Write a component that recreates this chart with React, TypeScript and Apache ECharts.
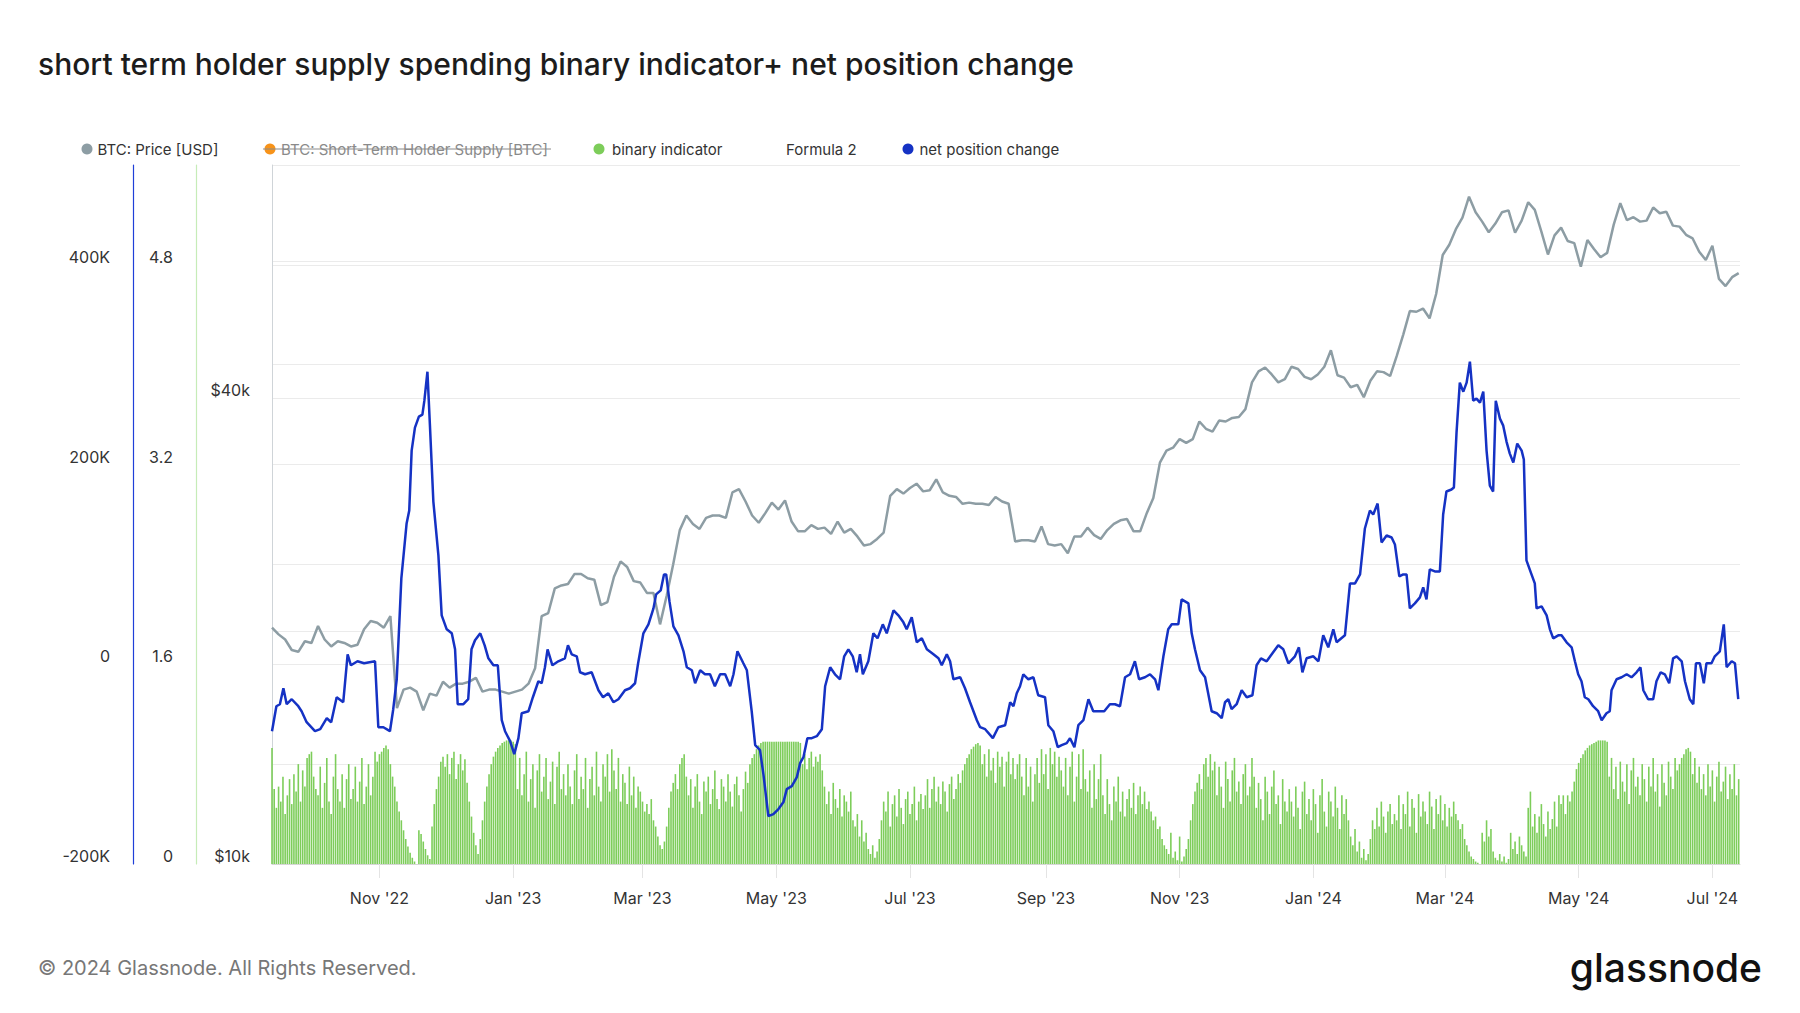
import React, { useEffect, useRef } from "react";
import * as echarts from "echarts";

// ---------- time frame ----------
const START = Date.UTC(2022, 8, 13); // day 0 = 13 Sep 2022
const DAY = 86400000;
const LAST_DAY = 669.6;

// x-axis ticks (month starts) and labels
const xTickDates: [number, number][] = [
  [2022, 10], [2023, 0], [2023, 2], [2023, 4], [2023, 6], [2023, 8],
  [2023, 10], [2024, 0], [2024, 2], [2024, 4], [2024, 6],
];
const xTickLabels = [
  "Nov '22", "Jan '23", "Mar '23", "May '23", "Jul '23", "Sep '23",
  "Nov '23", "Jan '24", "Mar '24", "May '24", "Jul '24",
];

// y-axis ticks
const netTicks = [-200000, 0, 200000, 400000];
const netTickLabels = ["-200K", "0", "200K", "400K"];
const binaryTicks = [0, 1.6, 3.2, 4.8];
const binaryTickLabels = ["0", "1.6", "3.2", "4.8"];
const priceGridValues = [10000, 20000, 40000, 60000];
const priceLabelValues = [10000, 40000];
const priceTickLabels = ["$10k", "$40k"];

// BTC price in $k, one value every 3 days starting at day 0
const PRICE_STEP = 3;
const priceK = [
  20.2, 19.8, 19.5, 18.9, 18.8, 19.4, 19.3, 20.3, 19.5, 19.1,
  19.4, 19.3, 19.1, 19.2, 20.1, 20.6, 20.5, 20.2, 20.9, 15.9,
  16.8, 16.9, 16.7, 15.8, 16.6, 16.5, 17.2, 16.9, 17.1, 17.1,
  17.2, 17.4, 16.7, 16.8, 16.8, 16.7, 16.6, 16.7, 16.8, 17.1,
  17.9, 20.9, 21.1, 22.7, 22.9, 23.0, 23.7, 23.7, 23.4, 23.3,
  21.6, 21.8, 23.5, 24.6, 24.2, 23.2, 23.1, 22.4, 22.4, 20.4,
  22.2, 24.4, 27.0, 28.2, 27.5, 27.1, 28.0, 28.2, 28.2, 28.0,
  30.2, 30.5, 29.4, 28.2, 27.6, 28.4, 29.3, 28.7, 29.5, 27.7,
  26.9, 26.9, 27.4, 27.1, 27.2, 26.7, 27.7, 26.8, 27.1, 26.5,
  25.8, 25.9, 26.3, 26.8, 29.9, 30.5, 30.1, 30.6, 31.0, 30.3,
  30.4, 31.4, 30.2, 29.9, 29.8, 29.2, 29.3, 29.2, 29.2, 29.1,
  29.8, 29.4, 29.2, 26.1, 26.2, 26.2, 26.1, 27.3, 25.9, 25.8,
  25.9, 25.2, 26.5, 26.5, 27.2, 26.6, 26.3, 27.0, 27.5, 27.8,
  27.9, 26.9, 26.9, 28.4, 29.7, 33.0, 34.2, 34.5, 35.4, 35.0,
  35.4, 37.3, 36.5, 36.2, 37.4, 37.3, 37.7, 37.8, 38.7, 41.9,
  43.3, 43.8, 42.9, 41.9, 42.3, 43.9, 43.6, 42.6, 42.3, 42.9,
  43.9, 46.1, 42.8, 42.5, 41.3, 41.6, 40.1, 42.1, 43.3, 43.2,
  42.7, 45.3, 48.3, 51.8, 51.7, 52.2, 50.7, 54.5, 61.2, 63.1,
  66.1, 68.4, 72.8, 69.5, 67.6, 65.5, 67.2, 69.5, 69.9, 65.4,
  67.8, 71.6, 70.0, 65.6, 61.3, 64.9, 66.4, 63.8, 63.4, 59.1,
  64.0, 62.3, 60.8, 61.6, 67.0, 71.4, 67.9, 68.5, 67.6, 67.8,
  70.5, 69.3, 69.6, 66.8, 66.6, 65.0, 64.3, 61.8, 60.3, 62.9,
  57.0, 55.8, 57.3, 58.0,
];

// net position change: [day, value in K]
const netPosition: [number, number][] = [
  [0, -67], [2, -42], [3.6, -40], [5.2, -24], [6.7, -40], [9, -35], [12, -42], [13.5, -47], [15.8, -58], [19.6, -67],
  [22, -65], [25, -54], [27, -58], [29.5, -33], [32.5, -38], [34.5, 10], [36, -1], [39, 3], [42, 1], [47, 3],
  [48.5, -63], [50.8, -63], [53.8, -67], [55.3, -45], [56.9, -15], [59, 86], [61.4, 141], [62.6, 154], [63.7, 214], [65.2, 237],
  [67, 248], [68.6, 250], [69.5, 264], [70.9, 293], [72, 241], [73.6, 163], [75.9, 109], [77.4, 49], [79.7, 35], [82, 31],
  [83.5, 15], [84.7, -40], [87.3, -40], [89.5, -35], [91, 15], [92.6, 24], [95, 31], [97, 19], [98.7, 6], [101, -1],
  [103, -1], [104.8, -56], [106.3, -67], [108.6, -77], [110.5, -90], [112.4, -74], [113.9, -49], [117, -47], [119, -33], [121.5, -17],
  [123, -19], [124.5, -3], [125.7, 15], [127.9, -1], [130.6, 3], [133.6, 6], [135, 19], [136.7, 10], [139, 8], [140.5, -8],
  [142.8, -10], [145.8, -8], [148.9, -26], [151, -33], [153.4, -29], [155.7, -38], [158, -35], [161, -26], [163.3, -24], [165.6, -19],
  [167, 1], [169.4, 31], [171.7, 40], [174, 56], [175.2, 70], [177.3, 74], [178.8, 90], [179.8, 90], [181.3, 63], [183.1, 38],
  [185.4, 29], [187.7, 13], [189.2, -3], [191.5, -6], [193, -19], [195.3, -6], [197.5, -10], [199.8, -10], [202, -22], [204.4, -10],
  [206.7, -10], [209, -22], [210.5, -10], [212.3, 13], [215, 1], [216.6, -6], [218.8, -47], [220.4, -81], [222.6, -86], [224.2, -111],
  [226.4, -152], [228.7, -150], [231, -145], [233.3, -138], [234.8, -125], [237.1, -122], [239.4, -113], [240.9, -99], [242.4, -93], [244.2, -74],
  [246.2, -74], [248.5, -72], [250.8, -65], [252.3, -22], [254.6, -3], [256.8, -10], [259.1, -15], [261, 8], [262.9, 15], [264.9, 8],
  [266.7, -8], [268.2, 10], [269.5, -10], [272, 3], [274.3, 31], [276.2, 26], [278.6, 40], [280.4, 31], [283.5, 54], [285.7, 49],
  [288, 42], [289.5, 35], [291.8, 47], [294.1, 22], [296.4, 26], [298.7, 15], [301.7, 10], [304, 6], [305.5, -1], [307.8, 10],
  [309.3, 3], [310.8, -15], [313.9, -13], [316.1, -24], [318.4, -38], [321.5, -56], [323, -63], [325.3, -65], [328.8, -74], [331.3, -63],
  [334.4, -61], [336.7, -38], [338.2, -42], [339.7, -29], [341.2, -22], [342.7, -10], [345, -15], [347.3, -13], [349.5, -31], [352.6, -33],
  [354.1, -61], [356.4, -67], [358.4, -83], [360.2, -81], [362.5, -79], [364, -74], [366, -83], [367.8, -61], [370.1, -56], [372.4, -35],
  [374.6, -47], [376.9, -47], [379.6, -47], [382.2, -40], [384.5, -40], [386.8, -42], [389.1, -13], [391.4, -10], [393.6, 3], [395.5, -15],
  [398.2, -13], [400.5, -10], [402.8, -15], [404.3, -26], [406.6, 8], [408.8, 35], [410.4, 40], [413.4, 40], [414.9, 65], [418, 61],
  [419.5, 31], [421, 15], [423.3, -6], [425.6, -13], [428.6, -47], [430.9, -49], [433.2, -54], [434.7, -38], [436.2, -35], [437.7, -45],
  [440, -40], [442.3, -26], [444.6, -33], [447.2, -31], [449.1, -1], [451.1, 6], [453.7, 3], [456, 10], [459, 19], [461.3, 15],
  [463.6, 1], [466.6, 8], [468.4, 17], [470, -8], [471.9, 6], [475, 8], [477.3, 3], [479.5, 29], [481.8, 17], [484.1, 35],
  [485.6, 22], [489.4, 29], [491.7, 81], [494, 81], [496.3, 90], [498.5, 136], [500.8, 154], [502.3, 150], [504.3, 161], [506.1, 122],
  [508.4, 129], [510.7, 127], [512.2, 120], [514.2, 88], [516, 90], [517.5, 90], [519, 56], [521.3, 61], [523.6, 67], [525.1, 77],
  [526.6, 65], [528.1, 95], [530.4, 93], [532.7, 93], [534.2, 150], [535.7, 173], [538, 175], [539.1, 177], [540.3, 232], [541.8, 282],
  [543.4, 273], [544.9, 282], [546.4, 303], [547.9, 264], [549.4, 266], [551, 262], [552.5, 273], [554, 214], [555.5, 179], [557, 173],
  [558.2, 264], [560.1, 246], [561.6, 239], [563.1, 223], [564.6, 211], [566.2, 202], [568, 221], [570, 214], [571, 205], [572.2, 104],
  [574.5, 90], [576, 81], [576.8, 56], [579.1, 58], [581.4, 49], [582.9, 35], [584.4, 26], [586.7, 29], [588.2, 29], [590.5, 22],
  [592.8, 17], [594.3, 3], [595.8, -10], [597.3, -17], [598.8, -33], [600.4, -35], [602.6, -42], [604.9, -47], [606.5, -56], [608.7, -49],
  [610.2, -47], [611, -26], [613.3, -15], [615.6, -13], [617.9, -10], [620.1, -13], [622.4, -8], [624.2, -3], [625.5, -26], [627.7, -35],
  [630, -35], [631.5, -17], [633.4, -8], [635.3, -10], [637.3, -19], [639.1, 6], [640.7, 8], [643, 3], [644.5, -17], [646.7, -35],
  [648.3, -40], [649.5, 1], [651.3, 1], [653.1, -19], [654.3, 1], [656.6, 1], [658.1, 8], [660.4, 13], [662.2, 40], [663.5, -3],
  [665.8, 3], [667.3, 1], [668.8, -35],
];

// binary indicator, daily from day 0, in percent (0..100 -> 0..1)
const binaryPct = [
  // d0-20
  93, 60, 45, 62, 50, 70, 40, 55, 68, 48, 72, 58, 80, 50, 75, 62, 85, 88, 90, 70, 60,
  // d21-47
  55, 78, 45, 65, 85, 50, 40, 70, 88, 60, 50, 72, 45, 68, 80, 52, 60, 78, 50, 66, 85, 48, 62, 80, 55, 70, 90,
  // d48-54
  82, 88, 90, 93, 95, 92, 80,
  // d55-65
  70, 62, 50, 42, 35, 27, 20, 14, 9, 5, 2,
  // d66-72
  0, 27, 24, 18, 12, 7, 4,
  // d73-88
  30, 48, 60, 70, 82, 86, 78, 88, 72, 85, 90, 68, 80, 88, 75, 84,
  // d89-95
  65, 50, 38, 25, 15, 8, 20,
  // d96-111
  35, 50, 62, 72, 80, 86, 90, 93, 95, 97, 98, 99, 99, 99, 98, 96,
  // d112-133
  60, 85, 55, 72, 90, 50, 68, 80, 45, 75, 88, 58, 70, 85, 52, 66, 82, 48, 78, 90, 60, 72,
  // d134-170
  55, 80, 62, 48, 75, 88, 52, 70, 60, 85, 45, 68, 78, 55, 90, 62, 50, 80, 70, 88,
  58, 92, 75, 60, 85, 50, 72, 65, 48, 78, 55, 70, 45, 62, 58, 50, 42,
  // d171-179
  48, 40, 52, 35, 30, 22, 15, 12, 18,
  // d180-189
  30, 45, 58, 65, 72, 60, 80, 85, 88, 70,
  // d190-218
  55, 68, 45, 62, 72, 50, 40, 66, 58, 70, 48, 60, 75, 52, 44, 68, 62, 50, 72, 58,
  46, 64, 70, 55, 42, 60, 74, 65, 80,
  // d219-223
  85, 88, 92, 95, 97,
  // d224-241
  98, 98, 98, 98, 98, 98, 98, 98, 98, 98, 98, 98, 98, 98, 98, 98, 98, 97,
  // d242-251
  80, 88, 76, 85, 90, 78, 86, 82, 88, 75,
  // d252-265
  62, 48, 58, 40, 65, 52, 45, 60, 38, 55, 50, 42, 58, 35,
  // d266-277
  30, 40, 22, 35, 18, 25, 12, 8, 15, 5, 10, 20,
  // d278-297
  35, 50, 42, 58, 30, 48, 55, 38, 60, 45, 32, 52, 58, 40, 48, 62, 35, 50, 56, 44,
  // d298-314
  55, 68, 45, 60, 70, 50, 62, 48, 66, 58, 42, 64, 70, 52, 60, 72, 65,
  // d315-323
  75, 80, 85, 88, 92, 94, 96, 97, 95,
  // d324-341
  80, 88, 70, 92, 75, 85, 65, 90, 78, 86, 62, 82, 90, 72, 85, 68, 80, 88,
  // d342-348
  70, 55, 85, 62, 78, 50, 72,
  // d349-360
  85, 65, 92, 72, 88, 60, 93, 80, 90, 70, 86, 75,
  // d361-371
  62, 85, 55, 78, 90, 50, 70, 88, 60, 92, 68,
  // d372-378
  58, 75, 45, 80, 52, 68, 88,
  // d379-389
  55, 40, 68, 48, 35, 62, 50, 70, 42, 58, 38,
  // d390-400
  52, 60, 45, 65, 40, 55, 62, 48, 58, 44, 50,
  // d401-407
  42, 35, 38, 28, 30, 20, 15,
  // d408-417
  12, 8, 25, 5, 10, 3, 22, 2, 6, 12,
  // d418-430
  20, 35, 48, 58, 65, 72, 60, 80, 85, 70, 88, 75, 82,
  // d431-448
  55, 78, 62, 45, 82, 68, 50, 75, 85, 58, 66, 48, 72, 80, 55, 62, 85, 70,
  // d449-464
  45, 65, 52, 35, 70, 58, 40, 62, 75, 48, 55, 32, 68, 50, 42, 60,
  // d465-491
  50, 38, 62, 45, 28, 58, 66, 40, 52, 35, 60, 48, 25, 55, 68, 42, 30, 58, 50, 38,
  62, 45, 28, 55, 40, 52, 35,
  // d492-500
  22, 15, 28, 10, 18, 5, 12, 3, 8,
  // d501-512
  20, 35, 28, 45, 30, 50, 38, 25, 42, 48, 32, 40,
  // d513-539
  35, 55, 28, 48, 40, 58, 30, 52, 45, 25, 56, 38, 50, 42, 32, 58, 46, 28, 52, 40,
  55, 35, 48, 30, 45, 38, 50,
  // d540-551
  40, 35, 28, 32, 20, 15, 10, 6, 4, 2, 1, 0,
  // d552-557
  25, 18, 35, 22, 28, 10,
  // d558-564
  5, 3, 8, 2, 6, 1, 4,
  // d565-572
  25, 12, 18, 8, 22, 15, 10, 6,
  // d573-593
  45, 58, 30, 40, 25, 38, 48, 32, 22, 42, 28, 36, 50, 30, 55, 48, 55, 40, 55, 50, 58,
  // d594-609
  66, 76, 81, 85, 88, 91, 93, 95, 96, 97, 98, 99, 99, 99, 99, 98,
  // d610-641
  70, 85, 60, 78, 52, 82, 66, 58, 80, 48, 75, 85, 62, 70, 55, 80, 68, 50, 78, 62,
  85, 58, 72, 46, 80, 65, 55, 82, 70, 60, 85, 75,
  // d642-650
  80, 85, 88, 92, 93, 90, 72, 85, 65,
  // d651-669
  78, 60, 72, 55, 80, 62, 75, 50, 70, 82, 58, 66, 78, 52, 72, 60, 80, 55, 68,
];

// ---------- styling constants ----------
const FONT = 'Inter, "Noto Sans", sans-serif';
const C_PRICE = "#8d9da4";
const C_NET = "#1532c4";
const C_BIN = "#7dcd5a";
const C_STH = "#f7931a";
const C_GRID = "#ebebeb";
const C_TEXT = "#333333";

export default function App() {
  const ref = useRef<HTMLDivElement>(null);

  useEffect(() => {
    if (!ref.current) return;
    const chart = echarts.init(ref.current, null, { renderer: "svg" });

    // x axis is in days since START
    const xTicks = xTickDates.map(([y, m]) => Math.round((Date.UTC(y, m, 1) - START) / DAY));
    const priceData = priceK.map((p, i) => [i * PRICE_STEP, Math.log10(p * 1000)]);
    const netData = netPosition.map(([d, v]) => [d, v * 1000]);
    const binData = binaryPct.map((v, d) => [d, v / 100]);

    const yLabel = {
      fontSize: 16,
      color: C_TEXT,
      fontFamily: FONT,
      verticalAlign: "bottom" as const,
    };

    const legendY = 149;
    const legendText = (x: number, text: string, fill = C_TEXT) => ({
      type: "text",
      x,
      y: legendY,
      style: { text, fill, fontSize: 15, fontFamily: FONT, align: "left", verticalAlign: "middle" },
    });
    const legendDot = (cx: number, fill: string) => ({
      type: "circle",
      shape: { cx, cy: legendY, r: 5.5 },
      style: { fill },
    });

    chart.setOption({
      animation: false,
      backgroundColor: "#ffffff",
      grid: { left: 272, right: 60, top: 165, bottom: 149, containLabel: false },
      xAxis: {
        type: "value",
        min: 0,
        max: LAST_DAY,
        axisLine: { show: true, onZero: false, lineStyle: { color: "#d6d6d6", width: 1 } },
        axisTick: { show: true, length: 14, lineStyle: { color: "#e4e4e4" }, customValues: xTicks },
        axisLabel: {
          customValues: xTicks,
          formatter: (v: number) => {
            const i = xTicks.findIndex((t) => Math.abs(t - v) < 0.5);
            return i >= 0 ? xTickLabels[i] : "";
          },
          margin: 26,
          fontSize: 16,
          color: C_TEXT,
          fontFamily: FONT,
        },
        splitLine: { show: false },
      },
      yAxis: [
        {
          type: "value",
          position: "left",
          offset: 0,
          min: 4,
          max: Math.log10(80000),
          axisLine: { show: true, onZero: false, lineStyle: { color: "#cfd4d8", width: 1 } },
          axisTick: { show: false, customValues: priceGridValues.map((v) => Math.log10(v)) },
          axisLabel: {
            ...yLabel,
            margin: 22,
            customValues: priceLabelValues.map((v) => Math.log10(v)),
            formatter: (v: number) => {
              const i = priceLabelValues.findIndex((p) => Math.abs(Math.log10(p) - v) < 1e-6);
              return i >= 0 ? priceTickLabels[i] : "";
            },
          },
          splitLine: { show: true, lineStyle: { color: C_GRID, width: 1 } },
        },
        {
          type: "value",
          position: "left",
          offset: 139,
          min: -200000,
          max: 500000,
          axisLine: { show: true, onZero: false, lineStyle: { color: "#1f3fd8", width: 1.2 } },
          axisTick: { show: false, customValues: netTicks },
          axisLabel: {
            ...yLabel,
            margin: 23,
            customValues: netTicks,
            formatter: (v: number) => {
              const i = netTicks.indexOf(v);
              return i >= 0 ? netTickLabels[i] : "";
            },
          },
          splitLine: { show: true, lineStyle: { color: C_GRID, width: 1 } },
        },
        {
          type: "value",
          position: "left",
          offset: 76,
          min: 0,
          max: 5.6,
          axisLine: { show: true, onZero: false, lineStyle: { color: "#c6ecb8", width: 1.2 } },
          axisTick: { show: false, customValues: binaryTicks },
          axisLabel: {
            ...yLabel,
            margin: 23,
            customValues: binaryTicks,
            formatter: (v: number) => {
              const i = binaryTicks.findIndex((b) => Math.abs(b - v) < 1e-6);
              return i >= 0 ? binaryTickLabels[i] : "";
            },
          },
          splitLine: { show: false },
        },
        {
          type: "value",
          position: "right",
          min: 0,
          max: 7,
          axisLine: { show: false, onZero: false },
          axisTick: { show: false, customValues: [1, 3, 5, 7] },
          axisLabel: { show: false },
          splitLine: { show: true, lineStyle: { color: C_GRID, width: 1 } },
        },
      ],
      series: [
        {
          name: "binary indicator",
          type: "bar",
          yAxisIndex: 2,
          data: binData,
          barWidth: 1.6,
          itemStyle: { color: C_BIN },
          z: 2,
        },
        {
          name: "BTC: Short-Term Holder Supply [BTC]",
          type: "line",
          yAxisIndex: 0,
          data: [],
          itemStyle: { color: C_STH },
        },
        {
          name: "Formula 2",
          type: "line",
          yAxisIndex: 0,
          data: [],
          itemStyle: { color: "transparent" },
        },
        {
          name: "BTC: Price [USD]",
          type: "line",
          yAxisIndex: 0,
          data: priceData,
          showSymbol: false,
          symbol: "none",
          lineStyle: { color: C_PRICE, width: 2.5 },
          itemStyle: { color: C_PRICE },
          z: 3,
        },
        {
          name: "net position change",
          type: "line",
          yAxisIndex: 1,
          data: netData,
          showSymbol: false,
          symbol: "none",
          lineStyle: { color: C_NET, width: 2.5 },
          itemStyle: { color: C_NET },
          z: 4,
        },
      ],
      graphic: [
        {
          type: "text",
          x: 38,
          y: 64,
          style: {
            text: "short term holder supply spending binary indicator+ net position change",
            fill: "#1c1c1c",
            fontSize: 30,
            fontWeight: 500,
            fontFamily: FONT,
            align: "left",
            verticalAlign: "middle",
          },
        },
        legendDot(87, C_PRICE),
        legendText(97.5, "BTC: Price [USD]"),
        legendDot(270, C_STH),
        legendText(281, "BTC: Short-Term Holder Supply [BTC]", "#8a8a8a"),
        {
          type: "line",
          shape: { x1: 263, y1: legendY, x2: 551, y2: legendY },
          style: { stroke: "#8a8a8a", lineWidth: 1 },
        },
        legendDot(599, C_BIN),
        legendText(612, "binary indicator"),
        legendText(786, "Formula 2"),
        legendDot(908, C_NET),
        legendText(919.5, "net position change"),
        {
          type: "text",
          x: 38,
          y: 968,
          style: {
            text: "© 2024 Glassnode. All Rights Reserved.",
            fill: "#777777",
            fontSize: 20,
            fontFamily: FONT,
            align: "left",
            verticalAlign: "middle",
          },
        },
        {
          type: "text",
          x: 1762,
          y: 967,
          style: {
            text: "glassnode",
            fill: "#111111",
            fontSize: 39,
            fontWeight: 500,
            fontFamily: FONT,
            align: "right",
            verticalAlign: "middle",
          },
        },
      ],
    });

    return () => chart.dispose();
  }, []);

  return (
    <div
      ref={ref}
      style={{ position: "fixed", left: 0, top: 0, width: 1800, height: 1013, background: "#fff" }}
    />
  );
}
